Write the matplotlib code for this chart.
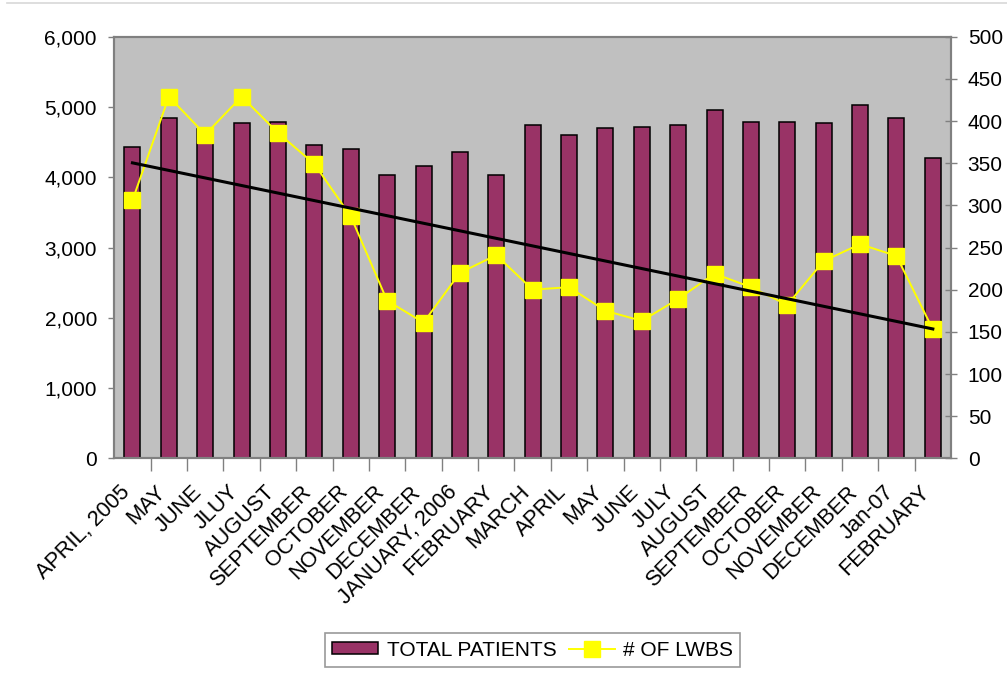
import numpy as np
import matplotlib
matplotlib.use("Agg")
import matplotlib.pyplot as plt
from matplotlib.lines import Line2D
from matplotlib.ticker import FuncFormatter, FixedLocator
from matplotlib.transforms import ScaledTranslation

plt.rcParams["font.family"] = ["Liberation Sans", "DejaVu Sans"]

months = ["APRIL, 2005", "MAY", "JUNE", "JLUY", "AUGUST", "SEPTEMBER",
          "OCTOBER", "NOVEMBER", "DECEMBER", "JANUARY, 2006", "FEBRUARY",
          "MARCH", "APRIL", "MAY", "JUNE", "JULY", "AUGUST", "SEPTEMBER",
          "OCTOBER", "NOVEMBER", "DECEMBER", "Jan-07", "FEBRUARY"]

total_patients = [4435, 4840, 4680, 4770, 4790, 4455, 4405, 4035, 4155, 4365,
                  4035, 4745, 4600, 4700, 4720, 4745, 4955, 4790, 4790, 4770,
                  5030, 4840, 4270]

lwbs = [306, 429, 384, 429, 386, 349, 287, 187, 161, 220, 241, 200, 203,
        175, 163, 189, 219, 203, 182, 234, 254, 240, 153]

BAR_COLOR = "#993366"
PLOT_BG = "#C0C0C0"
GRID_GRAY = "#808080"

x = np.arange(len(months))

fig = plt.figure(figsize=(10.07, 6.75), dpi=100)
fig.subplots_adjust(left=0.1135, right=0.9444, bottom=0.321, top=0.9456)
ax = fig.add_subplot(111)
ax.set_facecolor(PLOT_BG)

bars = ax.bar(x, total_patients, width=0.44, color=BAR_COLOR,
              edgecolor="black", linewidth=1.1, zorder=2,
              label="TOTAL PATIENTS")
ax.set_xlim(-0.5, len(months) - 0.5)
ax.set_ylim(0, 6000)
ax.set_yticks(np.arange(0, 6001, 1000))
ax.yaxis.set_major_formatter(FuncFormatter(lambda v, p: f"{v:,.0f}"))

for side in ["left", "right", "top", "bottom"]:
    ax.spines[side].set_color(GRID_GRAY)
    ax.spines[side].set_linewidth(1.5)

ax.tick_params(axis="y", which="major", labelsize=15, length=4.5,
               width=1, color=GRID_GRAY, pad=8)

# category labels, rotated, plus short boundary ticks
ax.set_xticks(x)
ax.set_xticklabels(months, fontsize=15.7, rotation=45, ha="right",
                   va="center", rotation_mode="anchor")
ax.tick_params(axis="x", which="major", length=0, pad=22)
ax.xaxis.set_minor_locator(FixedLocator(np.arange(0.5, len(months) - 1, 1)))
ax.tick_params(axis="x", which="minor", length=9, width=1, color=GRID_GRAY)
shift = ScaledTranslation(-6 / 100, 0, fig.dpi_scale_trans)
for lbl in ax.get_xticklabels():
    lbl.set_transform(lbl.get_transform() + shift)

# LWBS on the secondary axis with its linear trend
ax2 = ax.twinx()
ax2.set_ylim(0, 500)
ax2.set_yticks(np.arange(0, 501, 50))
ax2.tick_params(axis="y", labelsize=15, length=8, width=1,
                color=GRID_GRAY, direction="inout", pad=8)
for side in ["left", "right", "top", "bottom"]:
    ax2.spines[side].set_color(GRID_GRAY)
    ax2.spines[side].set_linewidth(1.5)

line, = ax2.plot(x, lwbs, color="#FFFF00", linewidth=1.4, marker="s",
                 markersize=11, markerfacecolor="#FFFF00",
                 markeredgecolor="#FFFF00", zorder=4, label="# OF LWBS")
coef = np.polyfit(x, lwbs, 1)
ax2.plot(x, np.polyval(coef, x), color="black", linewidth=2.2, zorder=5)

leg = fig.legend(handles=[bars, line], labels=["TOTAL PATIENTS", "# OF LWBS"],
                 loc="center", bbox_to_anchor=(0.529, 0.037), ncol=2,
                 fontsize=15, frameon=True, fancybox=False, shadow=False,
                 handlelength=2.2, handleheight=0.55, columnspacing=0.6,
                 handletextpad=0.4, borderpad=0.35)
leg.get_frame().set_edgecolor(GRID_GRAY)
leg.get_frame().set_linewidth(1.2)

# thin rule along the top of the slide
fig.add_artist(Line2D([0.007, 1.0], [0.995, 0.995], color="#D8D8D8",
                      linewidth=1.2, transform=fig.transFigure))

fig.savefig("out.png", dpi=100)
